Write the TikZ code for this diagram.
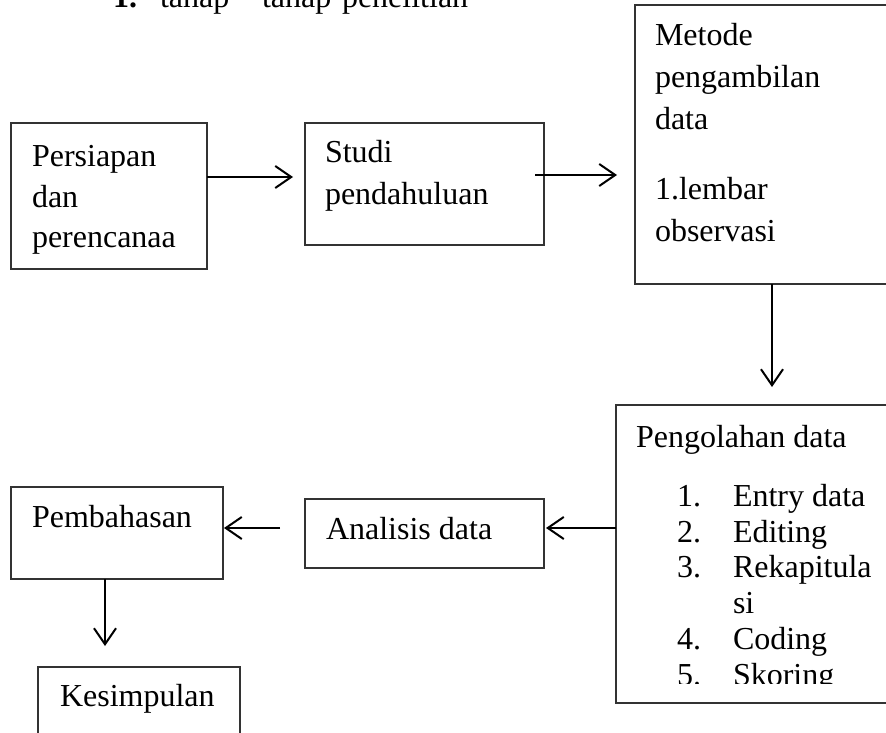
\documentclass[tikz,border=0pt]{standalone}
\usepackage{fontspec}
\setmainfont{Liberation Serif}
\usetikzlibrary{arrows.meta}
\begin{document}
\begin{tikzpicture}[x=1pt,y=-1pt,
  box/.style={draw=black!80, line width=1.3pt, rectangle, inner sep=0pt, outer sep=0pt, anchor=north west},
  txt/.style={anchor=base west, inner sep=0pt, outer sep=0pt, font=\fontsize{32}{38}\selectfont},
  head/.style={anchor=base west, inner sep=0pt, outer sep=0pt, font=\fontsize{32}{38}\selectfont},
  arr/.style={-{Straight Barb[length=16pt,width=22pt,line width=2pt]}, line width=2pt, black}]
\useasboundingbox (0,0) rectangle (886,733);
\clip (0,0) rectangle (886,733);

% header (cut off at the top)
\node[head] (h1) at (113,8) {\bfseries 1.};
\node[head] (h2) at (160,8) {tahap};
\node[head] (h3) at (262,8) {tahap};
\node[head] (h4) at (342,8) {penelitian};

% boxes
\node[box, minimum width=196pt, minimum height=146pt] (persiapan) at (11,123) {};
\node[box, minimum width=239pt, minimum height=122pt] (studi) at (305,123) {};
\node[box, minimum width=300pt, minimum height=279pt] (metode) at (635,5) {};
\node[box, minimum width=300pt, minimum height=298pt] (pengolahan) at (616,405) {};
\node[box, minimum width=239pt, minimum height=69pt] (analisis) at (305,499) {};
\node[box, minimum width=212pt, minimum height=92pt] (pembahasan) at (11,487) {};
\node[box, minimum width=202pt, minimum height=120pt] (kesimpulan) at (38,667) {};

% texts
\node[txt] (t1) at (32,167) {Persiapan};
\node[txt] (t2) at (32,207) {dan};
\node[txt] (t3) at (32,247) {perencanaa};

\node[txt] (t4) at (325,163) {Studi};
\node[txt] (t5) at (325,204) {pendahuluan};

\node[txt] (t6) at (655,46) {Metode};
\node[txt] (t7) at (655,88) {pengambilan};
\node[txt] (t8) at (655,130) {data};
\node[txt] (t9) at (655,199) {1.lembar};
\node[txt] (t10) at (655,241) {observasi};

\begin{scope}
\clip (616,405) rectangle (886,683);
\node[txt] (p0) at (636,447) {Pengolahan data};
\node[txt] (n1) at (677,506) {1.};
\node[txt] (p1) at (733,506) {Entry data};
\node[txt] (n2) at (677,542) {2.};
\node[txt] (p2) at (733,542) {Editing};
\node[txt] (n3) at (677,577) {3.};
\node[txt] (p3) at (733,577) {Rekapitula};
\node[txt] (p3b) at (733,613) {si};
\node[txt] (n4) at (677,649) {4.};
\node[txt] (p4) at (733,649) {Coding};
\node[txt] (n5) at (677,685) {5.};
\node[txt] (p5) at (733,685) {Skoring};
\end{scope}

\node[txt] (t11) at (326,539) {Analisis data};
\node[txt] (t12) at (32,527) {Pembahasan};
\node[txt] (t13) at (60,706) {Kesimpulan};

% connectors
\draw[arr] ([yshift=-54pt]persiapan.north east) -- ([xshift=-12pt,yshift=-54pt]studi.north west);
\draw[arr] ([xshift=-9pt,yshift=-52pt]studi.north east) -- ([xshift=-18pt,yshift=-170pt]metode.north west);
\draw[arr] ([xshift=137pt]metode.south west) -- ([xshift=156pt,yshift=18pt]pengolahan.north west);
\draw[arr] ([yshift=-123pt]pengolahan.north west) -- ([xshift=2pt,yshift=-29pt]analisis.north east);
\draw[arr] ([xshift=-25pt,yshift=-29pt]analisis.north west) -- ([xshift=1pt,yshift=-41pt]pembahasan.north east);
\draw[arr] ([xshift=94pt]pembahasan.south west) -- ([xshift=67pt,yshift=21pt]kesimpulan.north west);
\end{tikzpicture}
\end{document}
